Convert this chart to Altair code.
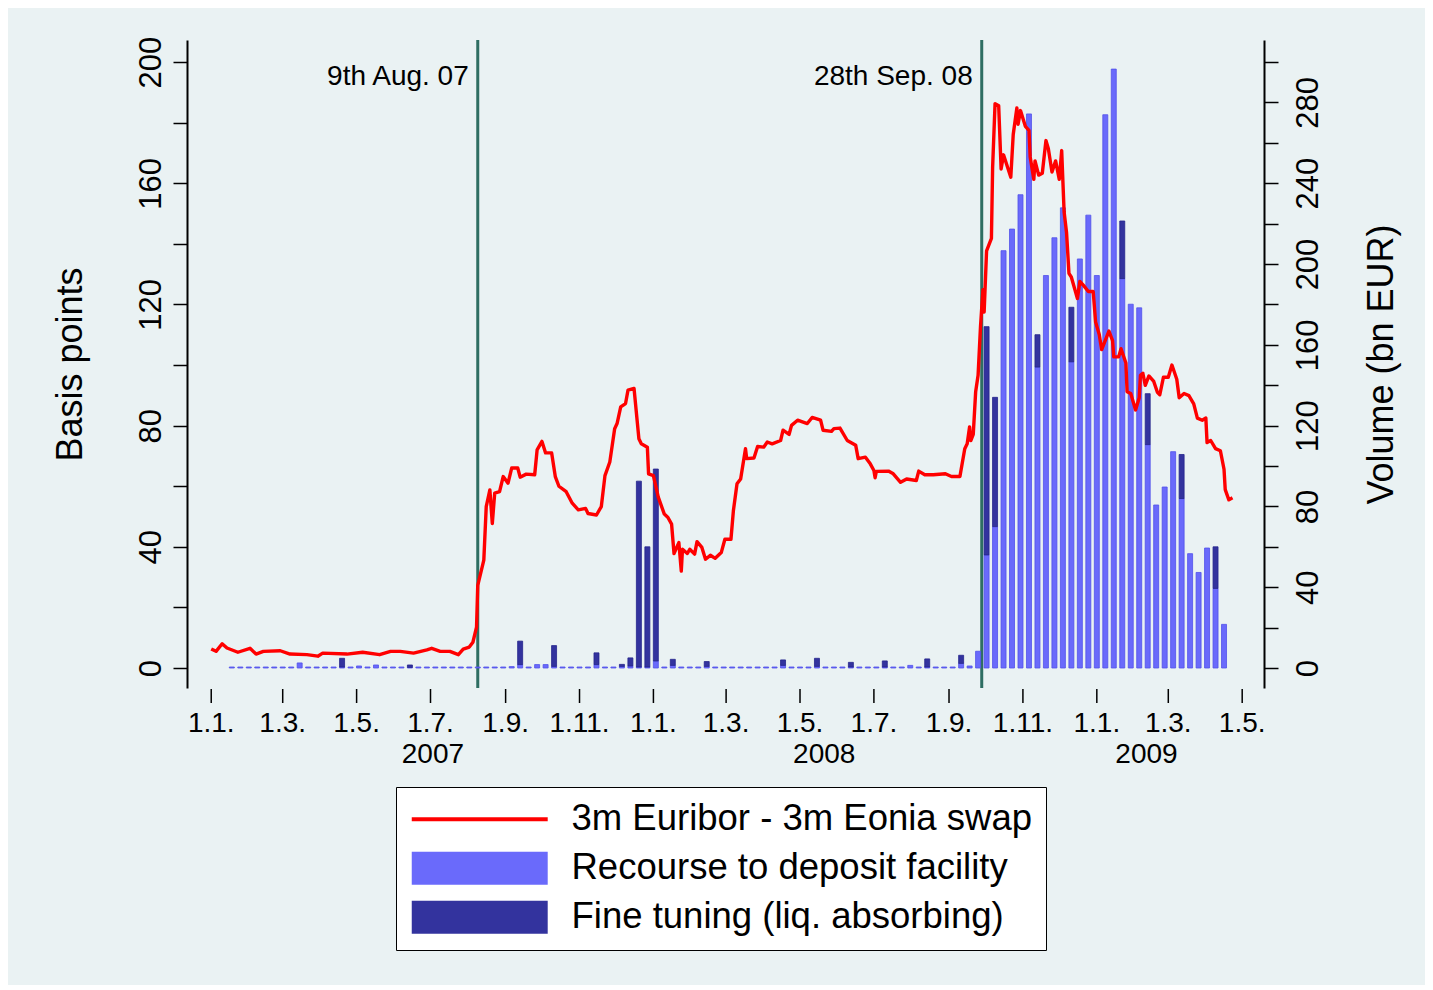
import altair as alt
import pandas as pd

FONT = "Liberation Sans"
BG = "#EAF2F3"
RED = "#FF0000"
LIGHT = "#6A6AFB"
LIGHT_EDGE = "#5252EA"
DARK = "#33339E"
DARK_EDGE = "#24248C"
TEAL = "#2E6E62"

# ---- 3m Euribor - 3m Eonia swap spread (day offset from 2007-01-01, basis points)
line_days = [0, 4, 9, 13, 22, 32, 37, 43, 57, 65,
             79, 88, 92, 112, 125, 139, 148, 156, 167, 178,
             182, 189, 197, 204, 208, 213, 216, 219, 220, 225,
             227, 230, 232, 234, 238, 241, 245, 248, 253, 255,
             260, 267, 269, 273, 276, 281, 284, 287, 293, 298,
             303, 309, 311, 318, 322, 325, 329, 333, 335, 338,
             342, 344, 349, 353, 355, 360, 361, 365, 369, 374,
             377, 380, 382, 386, 388, 389, 393, 395, 399, 401,
             405, 408, 412, 416, 421, 424, 429, 431, 434, 437,
             441, 442, 448, 451, 456, 459, 463, 470, 472, 477,
             479, 484, 492, 496, 503, 505, 512, 514, 519, 525,
             532, 534, 540, 544, 547, 548, 549, 559, 563, 569,
             574, 582, 584, 589, 596, 606, 611, 618, 622, 624,
             626, 627, 629, 631, 633, 635, 637, 638, 640, 644,
             645, 647, 650, 652, 654, 660, 662, 665, 666, 668,
             672, 675, 676, 679, 680, 683, 686, 689, 691, 694,
             697, 700, 702, 704, 706, 708, 710, 715, 717, 720,
             724, 728, 730, 733, 735, 741, 744, 745, 749, 751,
             755, 756, 759, 763, 766, 767, 769, 771, 774, 778,
             781, 783, 786, 790, 793, 797, 799, 803, 807, 811,
             814, 818, 821, 822, 825, 829, 833, 836, 837, 840,
             843]
line_bp = [6.3, 5.5, 8.0, 6.6, 5.2, 6.5, 4.6, 5.5, 5.7, 4.6,
           4.4, 3.9, 4.9, 4.6, 5.2, 4.4, 5.5, 5.5, 4.9, 6.0,
           6.5, 5.5, 5.5, 4.4, 6.2, 6.9, 8.5, 13.5, 27.3, 35.6,
           53.3, 58.8, 47.7, 57.7, 58.2, 63.2, 61.0, 66.0, 66.0, 63.0,
           64.0, 63.8, 72.0, 74.8, 71.0, 71.0, 63.2, 60.0, 58.2, 54.4,
           52.2, 52.7, 51.0, 50.5, 53.3, 63.5, 68.0, 79.0, 80.7, 86.2,
           87.3, 91.7, 92.3, 75.7, 74.0, 72.9, 64.1, 63.5, 56.4, 50.8,
           49.7, 47.5, 37.8, 41.4, 32.0, 39.2, 37.8, 39.2, 37.6, 41.7,
           39.8, 35.9, 37.2, 36.2, 38.1, 42.5, 42.5, 51.9, 60.8, 62.4,
           72.4, 69.1, 69.3, 73.1, 72.9, 74.6, 74.0, 75.1, 78.5, 77.1,
           80.1, 81.8, 80.7, 82.7, 81.8, 78.5, 78.1, 79.0, 79.2, 75.1,
           73.5, 69.1, 69.6, 67.4, 65.2, 62.8, 64.9, 65.0, 64.1, 61.3,
           62.4, 61.9, 65.0, 63.8, 63.8, 64.1, 63.2, 63.2, 72.4, 74.0,
           79.6, 75.1, 77.1, 91.2, 96.6, 112.8, 124.9, 117.5, 137.7, 141.8,
           165.4, 186.3, 185.6, 164.7, 169.4, 162.0, 176.1, 184.9, 179.5, 184.0,
           178.8, 177.5, 168.7, 161.3, 167.4, 162.7, 163.3, 174.1, 171.4, 163.7,
           167.4, 161.3, 170.8, 150.5, 143.8, 130.3, 129.0, 122.0, 127.6, 126.3,
           124.3, 124.3, 114.2, 110.1, 105.1, 111.2, 108.1, 102.7, 102.7, 105.4,
           100.7, 91.2, 90.6, 85.2, 89.2, 96.6, 97.3, 93.3, 96.4, 94.6,
           91.0, 90.2, 96.0, 96.0, 100.0, 95.3, 89.2, 90.6, 89.9, 87.2,
           82.5, 81.8, 82.5, 74.4, 75.1, 72.4, 71.7, 65.6, 58.9, 55.5,
           56.2]
assert len(line_days) == len(line_bp)

# ---- weekly volumes (bn EUR), first week 2007-01-18
bar_start = "2007-01-18"
bar_light = [0.5, 0.5, 0.5, 0.5, 0.5, 0.5, 0.5, 0.5, 2.5, 0.5,
             0.5, 0.5, 0.5, 0.5, 0.5, 1.0, 0.5, 1.5, 0.5, 0.5,
             0.5, 0.3, 0.5, 0.5, 0.5, 0.5, 0.5, 0.5, 0.5, 0.5,
             0.5, 0.5, 0.5, 0.7, 1.7, 0.5, 1.7, 1.7, 0.8, 0.5,
             0.5, 0.5, 0.5, 1.7, 0.5, 0.5, 0.8, 1.0, 0.5, 0.5,
             3.5, 0.5, 1.3, 0.5, 0.5, 0.5, 0.8, 0.5, 0.5, 0.5,
             0.5, 0.5, 0.5, 0.5, 0.5, 1.3, 0.5, 0.5, 0.5, 0.8,
             0.5, 0.5, 0.5, 0.5, 0.5, 0.5, 0.5, 0.5, 0.5, 0.5,
             1.3, 0.5, 0.5, 0.5, 0.5, 0.5, 2.3, 1.0, 8.3, 56.0,
             70.0, 206.6, 217.3, 234.3, 274.3, 149.0, 194.3, 213.0, 227.8, 151.6,
             202.5, 224.2, 194.3, 273.9, 296.5, 192.8, 180.1, 178.3, 110.6, 80.7,
             89.6, 107.1, 83.9, 56.6, 47.3, 59.4, 39.4, 21.6]
bar_dark = [0, 0, 0, 0, 0, 0, 0, 0, 0, 0,
            0, 0, 0, 4.3, 0, 0, 0, 0, 0, 0,
            0, 1.2, 0, 0, 0, 0, 0, 0, 0, 0,
            0, 0, 0, 0, 11.6, 0, 0, 0, 10.3, 0,
            0, 0, 0, 5.8, 0, 0, 1.0, 4.0, 92.0, 59.5,
            95.0, 0, 3.0, 0, 0, 0, 2.4, 0, 0, 0,
            0, 0, 0, 0, 0, 2.7, 0, 0, 0, 4.0,
            0, 0, 0, 2.3, 0, 0, 0, 3.0, 0, 0,
            0, 0, 4.0, 0, 0, 0, 4.0, 0, 0, 113.0,
            64.0, 0, 0, 0, 0, 16.0, 0, 0, 0, 27.0,
            0, 0, 0, 0, 0, 28.5, 0, 0, 25.2, 0,
            0, 0, 21.8, 0, 0, 0, 20.6, 0]
assert len(bar_light) == len(bar_dark)

event_dates = ["2007-08-09", "2008-09-28"]
event_labels = ["9th Aug. 07", "28th Sep. 08"]
year_labels = ["2007", "2008", "2009"]
year_label_dates = ["2007-07-03", "2008-05-21", "2009-02-11"]
tick_dates = ["2007-01-01", "2007-03-01", "2007-05-01", "2007-07-01", "2007-09-01",
              "2007-11-01", "2008-01-01", "2008-03-01", "2008-05-01", "2008-07-01",
              "2008-09-01", "2008-11-01", "2009-01-01", "2009-03-01", "2009-05-01"]
tick_labels = ["1.1.", "1.3.", "1.5.", "1.7.", "1.9.",
               "1.11.", "1.1.", "1.3.", "1.5.", "1.7.",
               "1.9.", "1.11.", "1.1.", "1.3.", "1.5."]
series_names = ["3m Euribor - 3m Eonia swap", "Recourse to deposit facility",
                "Fine tuning (liq. absorbing)"]


def ms(d):
    return int(pd.Timestamp(d, tz="UTC").value // 10**6)


DAY = 86400000
t0 = ms("2007-01-01")
line_df = pd.DataFrame({"t": [t0 + d * DAY for d in line_days], "bp": line_bp})

bar_t = [ms(d) for d in pd.date_range(bar_start, periods=len(bar_light), freq="7D")]
bars_df = pd.DataFrame({"t": bar_t, "light": bar_light, "dark": bar_dark})
bars_df["base"] = 0.0
bars_df["top"] = bars_df["light"] + bars_df["dark"]
dark_df = bars_df[bars_df["dark"] > 0]

events_df = pd.DataFrame({"t": [ms(d) for d in event_dates], "label": event_labels})
years_df = pd.DataFrame({"t": [ms(d) for d in year_label_dates], "label": year_labels})
ticks_df = pd.DataFrame({"t": [ms(d) for d in tick_dates], "label": tick_labels})
legend_df = pd.DataFrame({"series": series_names})

x_scale = alt.Scale(type="utc", domain=[ms("2006-12-12"), ms("2009-05-19")],
                    nice=False, padding=0)
# x axis: only the domain line comes from the axis; ticks/labels are drawn as marks on the same scale
x_axis = alt.Axis(
    orient="bottom", title=None, grid=False, ticks=False, labels=False,
    domainColor="black", domainWidth=2,
)
x_plain = alt.X("t:T", scale=x_scale, axis=None)

left_axis = alt.Axis(
    orient="left", values=list(range(0, 201, 20)),
    labelExpr="datum.value % 40 == 0 ? datum.label : ''",
    title="Basis points", titleFontSize=36, titleFont=FONT, titleFontWeight="normal",
    titleColor="black", titleAngle=270, titleX=-117, titleY=324, titleAlign="center",
    titleBaseline="middle",
    labelAngle=270, labelAlign="center", labelBaseline="alphabetic", labelPadding=13,
    labelFontSize=31, labelFont=FONT, labelColor="black", labelOverlap=False,
    tickSize=14, tickWidth=1.5, tickColor="black", domainColor="black", domainWidth=2,
    grid=True, gridColor=BG, gridWidth=2.5,
)
right_axis = alt.Axis(
    orient="right", values=list(range(0, 301, 20)),
    labelExpr="datum.value % 40 == 0 && datum.value <= 280 ? datum.label : ''",
    title="Volume (bn EUR)", titleFontSize=36, titleFont=FONT, titleFontWeight="normal",
    titleColor="black", titleAngle=270, titleX=117, titleY=324, titleAlign="center",
    titleBaseline="middle",
    labelAngle=270, labelAlign="center", labelBaseline="top", labelPadding=15,
    labelFontSize=31, labelFont=FONT, labelColor="black", labelOverlap=False,
    tickSize=14, tickWidth=1.5, tickColor="black", domainColor="black", domainWidth=2,
    grid=False,
)

vol_scale = alt.Scale(domain=[-9.9, 310.9], nice=False, zero=False)
bp_scale = alt.Scale(domain=[-6.6, 207.3], nice=False, zero=False)

rules = alt.Chart(events_df).mark_rule(color=TEAL, strokeWidth=3).encode(x=x_plain)

light_bars = alt.Chart(bars_df).mark_bar(
    size=5, color=LIGHT, stroke=LIGHT_EDGE, strokeWidth=0.8
).encode(
    x=x_plain,
    y=alt.Y("light:Q", scale=vol_scale, axis=right_axis),
    y2=alt.Y2("base:Q"),
)
dark_bars = alt.Chart(dark_df).mark_bar(
    size=5, color=DARK, stroke=DARK_EDGE, strokeWidth=0.8
).encode(
    x=x_plain,
    y=alt.Y("top:Q", scale=vol_scale, axis=right_axis),
    y2=alt.Y2("light:Q"),
)
bars = alt.layer(light_bars, dark_bars)

line = alt.Chart(line_df).mark_line(color=RED, strokeWidth=3.4, strokeJoin="round").encode(
    x=alt.X("t:T", scale=x_scale, axis=x_axis),
    y=alt.Y("bp:Q", scale=bp_scale, axis=left_axis),
)

x_ticks = alt.Chart(ticks_df).mark_rule(color="black", strokeWidth=1.5).encode(
    x=x_plain, y=alt.value(649), y2=alt.value(663)
)
x_labels = alt.Chart(ticks_df).mark_text(
    align="center", baseline="middle", fontSize=28, font=FONT, color="black"
).encode(x=x_plain, y=alt.value(684), text="label:N")

event_text = alt.Chart(events_df).mark_text(
    align="right", baseline="middle", dx=-9, fontSize=28, font=FONT, color="black"
).encode(x=x_plain, y=alt.value(37), text="label:N")

year_text = alt.Chart(years_df).mark_text(
    align="center", baseline="middle", fontSize=28, font=FONT, color="black"
).encode(x=x_plain, y=alt.value(715), text="label:N")

RECT_PATH = "M-1,-1H7.24V1H-1Z"
LINE_PATH = "M-1,-0.12H7.24V0.12H-1Z"
leg = alt.Legend(
    title=None, orient="none", legendX=209, legendY=747, direction="vertical",
    fillColor="white", strokeColor="black", padding=14, symbolSize=1089,
    labelOffset=125, labelFontSize=36.5, labelFont=FONT, labelColor="black",
    labelLimit=800, rowPadding=12, symbolStrokeWidth=0, symbolOpacity=1,
)
legend_pts = alt.Chart(legend_df).mark_point(filled=True, opacity=0).encode(
    color=alt.Color("series:N", scale=alt.Scale(domain=series_names, range=[RED, LIGHT, DARK]), legend=leg),
    shape=alt.Shape("series:N", scale=alt.Scale(domain=series_names, range=[LINE_PATH, RECT_PATH, RECT_PATH]), legend=leg),
)

chart = alt.layer(
    rules, bars, line, x_ticks, x_labels, event_text, year_text, legend_pts
).resolve_scale(
    y="independent"
).properties(
    width=1077, height=648,
    autosize=alt.AutoSizeParams(type="none"),
    padding={"left": 179, "top": 32, "right": 161, "bottom": 297},
).configure(
    background=BG, font=FONT
).configure_view(
    fill="white", stroke="transparent"
)

chart.save("out.html", embed_options={"renderer": "svg", "actions": False})
